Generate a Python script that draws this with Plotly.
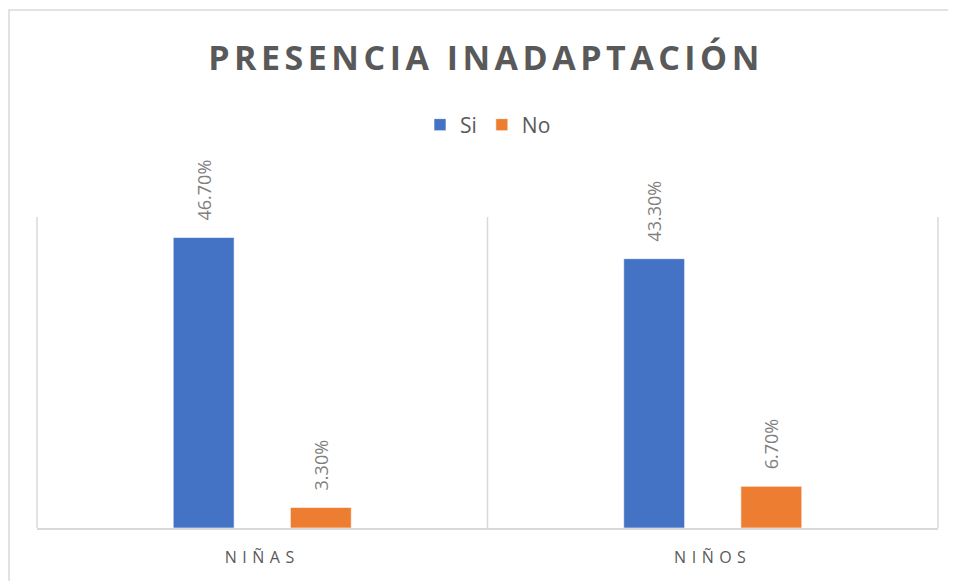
import plotly.graph_objects as go

categories = ["NIÑAS", "NIÑOS"]
series_names = ["Si", "No"]
si_values = [46.7, 43.3]
no_values = [3.3, 6.7]
colors = ["#4472C4", "#ED7D31"]
title_text = "PRESENCIA INADAPTACIÓN"

W, H = 956, 581
OFF = 8  # page body margin
L, T = 37 - OFF, 217 - OFF
PW, PH = 901, 311
R, B = W - L - PW, H - T - PH

def spaced(s, px):
    return f'<span style="letter-spacing:{px}px">{s}</span>'

def px_x(x):  # screen x -> paper
    return (x - OFF - L) / PW

def px_y(y):  # screen y -> paper
    return (T + PH - (y - OFF)) / PH

fig = go.Figure()
for name, vals, col in zip(series_names, [si_values, no_values], colors):
    fig.add_trace(go.Bar(
        x=categories, y=vals, name=name,
        marker=dict(color=col, line=dict(color="white", width=0.6)),
        texttemplate="\u00a0\u00a0\u00a0%{y:.2f}%",
        textposition="outside", textangle=-90,
        textfont=dict(family="Open Sans", size=18, color="#7f7f7f"),
        constraintext="none", cliponaxis=False,
    ))

fig.update_layout(
    width=W, height=H,
    margin=dict(l=L, r=R, t=T, b=B),
    paper_bgcolor="white", plot_bgcolor="white",
    barmode="group", bargap=0.48, bargroupgap=0.48,
    showlegend=True,
    title=dict(text=spaced(title_text, 4.5), x=0.5, xanchor="center",
               xref="container", yref="container", y=1 - (58 - OFF) / H, yanchor="middle",
               font=dict(family="Open Sans", size=34, color="#595959", weight="bold")),
    legend=dict(orientation="h", x=px_x(480 + OFF), xanchor="center",
                y=px_y(125), yanchor="middle",
                font=dict(family="Open Sans", size=21, color="#595959"),
                itemwidth=30, traceorder="normal"),
    xaxis=dict(tickmode="array", tickvals=categories,
               ticktext=[spaced(c, 5.5) for c in categories],
               tickfont=dict(family="Open Sans", size=16, color="#595959"),
               showline=True, linecolor="#d9d9d9", linewidth=1.5,
               showgrid=False, ticks="", ticklabelstandoff=14),
    yaxis=dict(range=[0, 50], visible=False, showgrid=False),
    shapes=[
        dict(type="line", xref="paper", yref="paper", x0=xp, x1=xp, y0=0, y1=1,
             line=dict(color="#d9d9d9", width=1.5))
        for xp in [0, 0.5, 1]
    ] + [
        dict(type="rect", xref="paper", yref="paper",
             x0=px_x(9), x1=1.5,
             y0=-1, y1=px_y(10),
             line=dict(color="#d9d9d9", width=1.5), layer="below"),
    ],
)

fig.write_html("out.html")
